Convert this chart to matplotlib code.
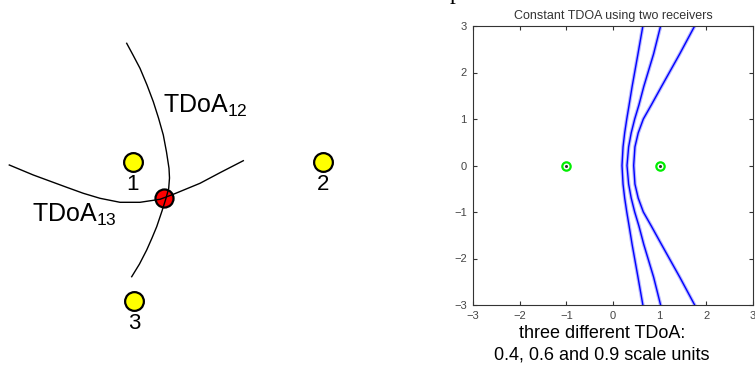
# 1. libraries ------------------------------------------------------------------------------------------/
import matplotlib
matplotlib.use("Agg")
import matplotlib.pyplot as plt
import numpy as np

plt.rcParams['font.family'] = ['Liberation Sans', 'DejaVu Sans']
plt.rcParams['mathtext.fontset'] = 'custom'
plt.rcParams['mathtext.rm'] = 'Liberation Sans'
plt.rcParams['mathtext.it'] = 'Liberation Sans:italic'

# 2. data -----------------------------------------------------------------------------------------------/
# a) left sketch (schematic units, y grows downward)
rx_labels = ["1", "2", "3"]
rx_x = [132.7, 322.7, 134.3]
rx_y = [161.7, 161.7, 300.7]
source_x = [164.0]
source_y = [198.3]
# TDoA_12 curve
c12_x = [126.7, 133.0, 140.0, 147.0, 153.3, 158.5, 163.3, 166.5, 169.0, 169.5, 168.7,
         166.0, 162.0, 156.7, 152.0, 146.7, 139.5, 131.7]
c12_y = [43.3, 55.0, 68.3, 85.0, 101.7, 118.0, 135.0, 152.0, 168.3, 178.0, 188.3,
         198.3, 211.0, 226.7, 238.0, 250.0, 264.0, 276.7]
# TDoA_13 curve
c13_x = [9.3, 33.3, 66.7, 83.3, 100.0, 120.0, 140.0, 160.0, 173.3, 200.0, 220.0, 243.3]
c13_y = [165.0, 175.0, 187.3, 193.3, 198.3, 202.3, 202.3, 199.3, 194.3, 183.3, 172.7, 160.7]

# b) right plot: two receivers and three constant-TDOA curves
recv_x = [-1, 1]
recv_y = [0, 0]
tdoa_values = [0.4, 0.6, 0.9]
curve_y = [-3, -2.4, -1.7, -1.3, -1, -0.7, -0.4, 0, 0.4, 0.7, 1, 1.3, 1.7, 2.4, 3]
curve_x = [
    [0.64, 0.535, 0.41, 0.345, 0.295, 0.25, 0.215, 0.193, 0.215, 0.25, 0.295, 0.345, 0.41, 0.535, 0.64],
    [1.02, 0.87, 0.66, 0.555, 0.465, 0.39, 0.335, 0.30, 0.335, 0.39, 0.465, 0.555, 0.66, 0.87, 1.02],
    [1.75, 1.43, 1.04, 0.82, 0.65, 0.54, 0.47, 0.443, 0.47, 0.54, 0.65, 0.82, 1.04, 1.43, 1.75],
]
ticks = [-3, -2, -1, 0, 1, 2, 3]

# 3. figure ---------------------------------------------------------------------------------------------/
W, H = 755, 365
fig = plt.figure(figsize=(W / 100, H / 100), dpi=100)

# a-3) left sketch
axl = fig.add_axes([0, 0, 415 / W, 1])
axl.set_xlim(0, 415)
axl.set_ylim(H, 0)
axl.axis('off')
axl.plot(source_x, source_y, 'o', ms=13, mfc='#ff0000', mec='black', mew=1.6, zorder=2)
axl.plot(c12_x, c12_y, color='black', lw=1.0, zorder=3)
axl.plot(c13_x, c13_y, color='black', lw=1.0, zorder=3)
axl.plot(rx_x, rx_y, 'o', ms=13.5, mfc='#ffff00', mec='black', mew=1.6, zorder=4)
for lab, x, y in zip(rx_labels, rx_x, rx_y):
    axl.text(x, y + 23, lab, ha='center', va='center', fontsize=16)
axl.text(163, 113, 'TDoA$_{12}$', fontsize=18, va='baseline', ha='left')
axl.text(31.7, 221.7, 'TDoA$_{13}$', fontsize=18, va='baseline', ha='left')

# cropped letter at the top edge
fig.text(450 / W, 1 + 1 / H, 'p', family='Liberation Serif', fontsize=17, va='baseline', ha='left')

# b-3) right plot
axr = fig.add_axes([473 / W, 60 / H, 280 / W, 279 / H])
for xs in curve_x:
    axr.plot(xs, curve_y, color='#b8b8ff', lw=2.6)
    axr.plot(xs, curve_y, color='#0000ff', lw=1.0)
axr.plot(recv_x, recv_y, 'o', ms=6, mfc='white', mec='#00ee00', mew=1.6)
axr.plot(recv_x, recv_y, 'o', ms=1.2, color='#333333')
axr.set_xlim(-3, 3)
axr.set_ylim(-3, 3)
axr.set_xticks(ticks)
axr.set_yticks(ticks)
axr.tick_params(direction='in', top=True, right=True, length=3, labelsize=8,
                labelcolor='#444444', color='#333333', pad=4.5)
for sp in axr.spines.values():
    sp.set_color('#333333')
axr.set_title('Constant TDOA using two receivers', fontsize=9, color='#333333', pad=5)

fig.text(602 / W, 1 - 333 / H, 'three different TDoA:', ha='center', va='center', fontsize=13)
fig.text(602 / W, 1 - 355 / H, '0.4, 0.6 and 0.9 scale units', ha='center', va='center', fontsize=13)

# plt save
fig.savefig('out.png', dpi=100)
